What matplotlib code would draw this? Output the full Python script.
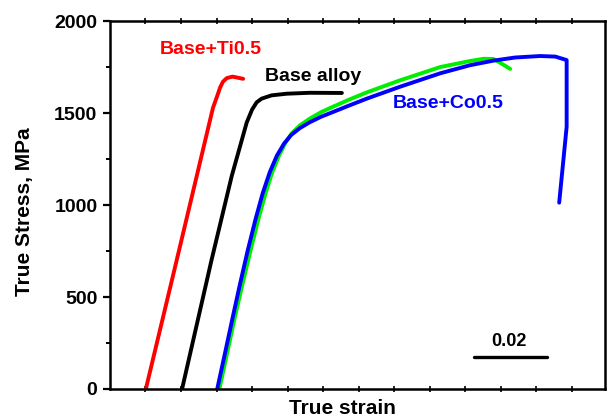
import matplotlib
matplotlib.use("Agg")
import matplotlib.pyplot as plt
import numpy as np

plt.rcParams['font.family'] = ['Liberation Sans', 'DejaVu Sans']
plt.rcParams['font.weight'] = 'bold'

# curves (true strain, true stress in MPa)
ti_strain = [0.0101, 0.0188, 0.0290, 0.0302, 0.0310, 0.0318, 0.0329, 0.0345, 0.0375]
ti_stress = [0, 702, 1530, 1595, 1640, 1672, 1692, 1700, 1688]

base_strain = [0.0203, 0.0286, 0.0343, 0.0385, 0.0400, 0.0413, 0.0427, 0.0455,
               0.0498, 0.0563, 0.0653]
base_stress = [0, 702, 1160, 1450, 1520, 1560, 1580, 1598,
               1607, 1612, 1611]

green_strain = [0.0308, 0.0331, 0.0351, 0.0373, 0.0396, 0.0418, 0.0438, 0.0457,
                0.0476, 0.0494, 0.0512, 0.0535, 0.0563, 0.0595, 0.0629, 0.0670,
                0.0723, 0.0817, 0.0930, 0.1014, 0.1052, 0.1080, 0.1099, 0.1127]
green_stress = [0, 205, 385, 570, 755, 925, 1065, 1180,
                1270, 1340, 1392, 1435, 1472, 1507, 1537, 1572,
                1614, 1680, 1752, 1785, 1797, 1796, 1775, 1742]

co_strain = [0.0302, 0.0325, 0.0345, 0.0366, 0.0388, 0.0410, 0.0430, 0.0450,
             0.0470, 0.0490, 0.0510, 0.0535, 0.0563, 0.0595, 0.0629, 0.0670,
             0.0723, 0.0817, 0.0930, 0.1014, 0.1080, 0.1141, 0.1211, 0.1254,
             0.1286, 0.1286, 0.1265]
co_stress = [0, 205, 385, 570, 755, 925, 1065, 1180,
             1270, 1335, 1382, 1420, 1452, 1482, 1508, 1540,
             1580, 1645, 1718, 1762, 1787, 1804, 1812, 1809,
             1790, 1427, 1014]

fig = plt.figure(figsize=(6.07, 4.18), dpi=100)
ax = fig.add_axes([0.1812, 0.0694, 0.8155, 0.8792])

kw = dict(lw=2.8, solid_capstyle='round', solid_joinstyle='round')
ax.plot(ti_strain, ti_stress, color='#ff0000', **kw)
ax.plot(base_strain, base_stress, color='black', **kw)
ax.plot(green_strain, green_stress, color='#00ee00', **kw)
ax.plot(co_strain, co_stress, color='#0000ff', **kw)

ax.text(0.02845, 1850, 'Base+Ti0.5', color='#ff0000', fontsize=14,
        fontweight='bold', ha='center', va='center')
ax.text(0.0572, 1703, 'Base alloy', color='black', fontsize=14,
        fontweight='bold', ha='center', va='center')
ax.text(0.0952, 1551, 'Base+Co0.5', color='#0000ff', fontsize=14,
        fontweight='bold', ha='center', va='center')

# scale bar
ax.plot([0.1025, 0.1231], [174, 174], color='black', lw=2.4, solid_capstyle='round')
ax.text(0.1124, 256, '0.02', fontsize=13, fontweight='bold', ha='center', va='center')

ax.set_xlim(0, 0.1394)
ax.set_ylim(0, 2000)
ax.set_yticks(np.arange(0, 2001, 500))
ax.set_yticks(np.arange(250, 2000, 500), minor=True)
ax.set_xticks(np.arange(0.01, 0.135, 0.01))
ax.set_xticklabels([])

ax.tick_params(axis='y', which='major', direction='out', length=5, width=1.6,
               labelsize=14, pad=4, right=False)
ax.tick_params(axis='y', which='minor', direction='out', length=3, width=1.4, right=False)
ax.tick_params(axis='x', which='major', direction='inout', length=4, width=1.2,
               top=True, bottom=True)
for lab in ax.get_yticklabels():
    lab.set_fontweight('bold')

for s in ax.spines.values():
    s.set_linewidth(1.8)

ax.set_xlabel('True strain', fontsize=15, fontweight='bold', va='top')
ax.xaxis.set_label_coords(0.469, -0.028)
ax.set_ylabel('True Stress, MPa', fontsize=15, fontweight='bold', va='center')
ax.yaxis.set_label_coords(-0.1727, 0.4816)

fig.savefig('out.png', dpi=100)
